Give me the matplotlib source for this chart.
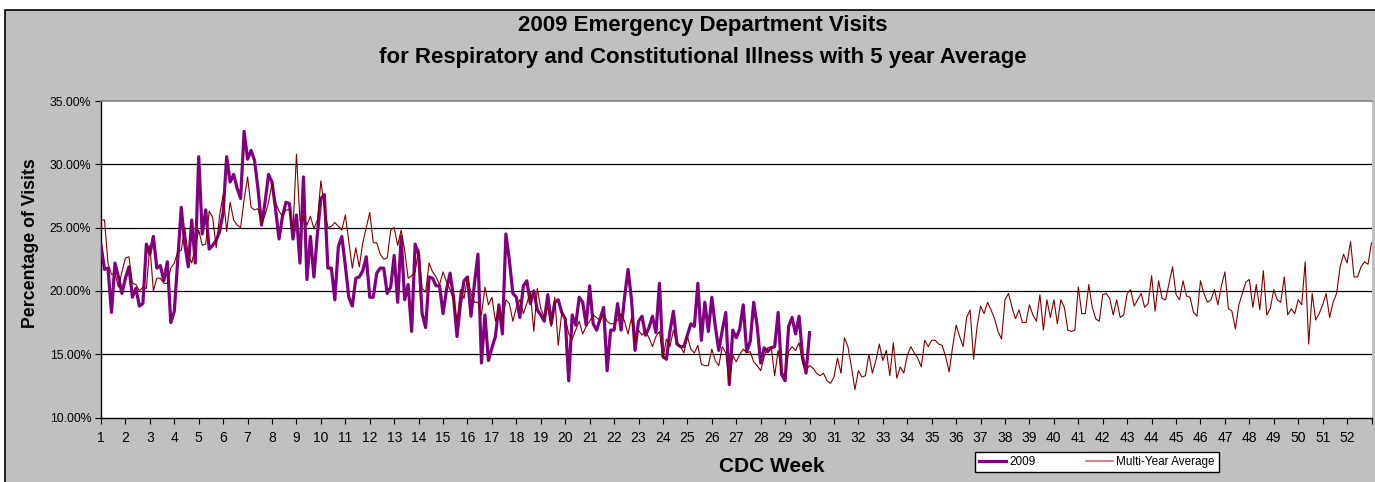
import matplotlib
matplotlib.use('Agg')
import matplotlib.pyplot as plt
from matplotlib.patches import Rectangle
import numpy as np

plt.rcParams['font.family'] = ['Liberation Sans', 'DejaVu Sans']

# ---------------- data ----------------
week_labels = [str(w) for w in range(1, 53)]
days_per_week = 7

multi_year_avg = [
    25.6, 25.6, 22.2, 21.3, 21.4, 20.3, 21.5, 22.6, 22.7, 20.6,
    20.5, 20.0, 20.3, 20.2, 23.6, 20.0, 21.0, 21.0, 20.6, 20.6,
    21.8, 22.2, 23.1, 23.2, 25.0, 22.8, 22.2, 23.5, 24.8, 23.6,
    23.7, 26.3, 25.8, 23.4, 26.0, 27.6, 24.7, 27.0, 25.6, 25.2,
    25.0, 27.2, 29.0, 26.6, 26.4, 26.5, 25.3, 26.0, 27.0, 28.5,
    27.0, 26.3, 25.9, 26.4, 26.4, 24.9, 30.8, 25.5, 26.0, 25.2,
    25.9, 24.9, 25.6, 28.7, 26.5, 25.0, 25.1, 25.4, 25.1, 24.8,
    26.0, 23.9, 21.8, 23.4, 21.9, 23.8, 25.0, 26.2, 23.8, 23.8,
    22.9, 22.5, 22.6, 24.8, 25.0, 23.6, 24.8, 23.2, 21.0, 21.2,
    21.5, 23.3, 20.2, 19.9, 22.2, 21.5, 21.1, 20.5, 21.5, 20.7,
    20.1, 19.3, 17.6, 20.1, 19.4, 21.1, 19.8, 19.1, 19.1, 18.1,
    20.3, 18.9, 19.5, 17.6, 18.7, 17.5, 19.3, 19.0, 17.6, 18.7,
    19.3, 18.2, 19.0, 19.9, 16.8, 20.2, 18.6, 17.9, 18.7, 17.2,
    19.5, 15.7, 18.3, 17.9, 16.6, 16.2, 16.9, 17.6, 16.6, 17.2,
    17.6, 18.1, 17.9, 17.6, 18.2, 17.6, 17.4, 17.4, 17.7, 18.2,
    17.6, 16.6, 17.9, 15.9, 16.9, 16.5, 16.8, 16.3, 15.6, 16.4,
    16.8, 14.7, 16.2, 15.6, 16.9, 16.0, 15.6, 15.1, 16.4, 15.4,
    15.1, 15.7, 14.2, 14.1, 14.1, 15.4, 14.5, 14.1, 15.6, 15.1,
    12.7, 14.9, 14.4, 15.0, 15.4, 15.1, 15.2, 14.4, 14.1, 13.7,
    14.8, 15.5, 15.6, 13.3, 15.3, 13.5, 13.4, 15.2, 15.6, 15.3,
    15.9, 14.3, 13.7, 14.1, 13.9, 13.5, 13.3, 13.5, 12.9, 12.7,
    13.2, 14.7, 13.5, 16.3, 15.6, 14.0, 12.2, 13.7, 13.2, 13.3,
    15.0, 13.5, 14.5, 15.8, 14.5, 15.3, 13.3, 15.9, 13.1, 14.0,
    13.5, 14.9, 15.6, 15.1, 14.7, 14.0, 16.1, 15.6, 16.1, 16.1,
    15.8, 15.7, 14.8, 13.6, 15.6, 17.3, 16.4, 15.6, 17.9, 18.5,
    14.6, 17.2, 18.8, 18.2, 19.1, 18.5, 17.8, 16.8, 16.2, 19.3,
    19.8, 18.7, 17.8, 18.5, 17.5, 17.5, 18.9, 18.1, 17.6, 19.7,
    16.9, 19.3, 17.9, 19.3, 17.4, 19.3, 18.7, 16.9, 16.8, 16.9,
    20.3, 18.2, 18.2, 20.5, 18.7, 17.8, 17.6, 19.7, 19.8, 19.4,
    18.1, 19.3, 17.9, 18.1, 19.8, 20.1, 18.8, 19.3, 19.8, 18.7,
    19.0, 21.2, 18.4, 20.8, 19.4, 19.3, 20.6, 21.9, 19.7, 19.3,
    20.8, 19.6, 19.5, 18.3, 18.0, 20.8, 19.8, 19.1, 19.3, 20.1,
    18.9, 20.4, 21.5, 18.6, 18.4, 17.0, 18.9, 19.8, 20.7, 20.9,
    18.7, 20.5, 18.5, 21.6, 18.1, 18.6, 20.1, 19.3, 19.1, 21.1,
    18.1, 18.6, 18.2, 19.3, 18.9, 22.3, 15.8, 19.8, 17.7, 18.2,
    18.9, 19.8, 17.9, 19.1, 19.8, 21.9, 22.9, 22.2, 23.9, 21.1,
    21.1, 21.9, 22.3, 22.1, 23.8,
]

visits_2009 = [
    23.6, 21.7, 21.8, 18.3, 22.2, 21.1, 19.8, 21.0, 21.9, 19.5,
    20.2, 18.8, 19.0, 23.7, 22.9, 24.3, 21.8, 22.0, 20.8, 22.3,
    17.5, 18.4, 22.5, 26.6, 23.7, 21.9, 25.6, 22.2, 30.6, 24.5,
    26.4, 23.3, 23.6, 24.0, 24.7, 26.2, 30.6, 28.6, 29.2, 28.1,
    27.3, 32.6, 30.4, 31.1, 30.3, 28.0, 25.2, 27.0, 29.2, 28.6,
    26.5, 24.1, 25.9, 27.0, 26.9, 24.1, 26.0, 22.2, 29.0, 20.9,
    24.3, 21.1, 24.5, 27.3, 27.6, 21.8, 21.8, 19.3, 23.5, 24.3,
    22.0, 19.5, 18.8, 21.0, 21.1, 21.6, 22.7, 19.5, 19.5, 21.4,
    21.8, 21.8, 19.8, 20.3, 22.8, 19.1, 24.3, 19.3, 20.5, 16.8,
    23.7, 22.9, 18.2, 17.1, 21.1, 21.0, 20.4, 20.4, 18.2, 20.1,
    21.4, 19.5, 16.4, 19.0, 20.8, 21.1, 18.0, 20.6, 22.9, 14.3,
    18.1, 14.5, 15.5, 16.4, 18.9, 16.6, 24.5, 22.4, 19.8, 19.5,
    17.9, 20.4, 20.8, 19.0, 20.0, 18.5, 18.1, 17.6, 19.7, 17.4,
    19.1, 19.3, 18.3, 17.8, 12.9, 18.1, 17.3, 19.5, 19.1, 17.3,
    20.4, 17.4, 16.9, 17.8, 18.7, 13.7, 16.9, 16.9, 19.0, 16.9,
    19.5, 21.7, 19.3, 15.3, 17.6, 18.0, 16.5, 17.1, 18.0, 16.7,
    20.6, 14.8, 14.6, 16.8, 18.4, 15.8, 15.6, 15.6, 16.5, 17.4,
    17.2, 20.6, 16.1, 19.1, 16.8, 19.5, 17.2, 15.3, 16.9, 18.3,
    12.6, 16.9, 16.3, 17.0, 18.9, 15.2, 16.0, 19.1, 17.2, 14.3,
    15.5, 15.2, 15.5, 15.6, 18.3, 13.4, 12.9, 17.2, 17.9, 16.6,
    18.0, 14.8, 13.5, 16.7,
]

y_ticks = [10, 15, 20, 25, 30, 35]

# ---------------- figure ----------------
W, H = 1375, 482
fig = plt.figure(figsize=(W / 100, H / 100), dpi=100)
fig.patch.set_facecolor('white')
fig.add_artist(Rectangle((5 / W, -0.01), 1.2, 1 - 10 / H + 0.01,
                         transform=fig.transFigure, facecolor='#C0C0C0',
                         edgecolor='black', linewidth=1.2, zorder=0))

ax = fig.add_axes([101 / W, 1 - 417.5 / H, (1371.5 - 101) / W, (417.5 - 101) / H])
ax.set_facecolor('white')

x_2009 = np.arange(len(visits_2009))
x_avg = np.arange(len(multi_year_avg))
l1, = ax.plot(x_2009, visits_2009, color='#800080', lw=2.3, solid_joinstyle='round', zorder=3)
l2, = ax.plot(x_avg, multi_year_avg, color='#800000', lw=0.8, zorder=4)

ax.set_xlim(0, len(multi_year_avg) - 1)
ax.set_ylim(10, 35)

ax.set_yticks(y_ticks)
ax.set_yticklabels([f'{v:.2f}%' for v in y_ticks], fontsize=8.8)
xt = np.arange(0, len(multi_year_avg), days_per_week)
ax.set_xticks(xt)
ax.set_xticklabels(week_labels + [''] * (len(xt) - len(week_labels)), fontsize=10)
ax.tick_params(axis='both', direction='out', length=4, width=0.8, color='black')
ax.tick_params(axis='x', pad=6)
ax.tick_params(axis='y', pad=3)

for v in y_ticks[1:-1]:
    ax.axhline(v, color='black', lw=0.9, zorder=1)

for s in ['left', 'bottom']:
    ax.spines[s].set_color('black')
    ax.spines[s].set_linewidth(1.0)
ax.spines['top'].set_color('#808080')
ax.spines['top'].set_linewidth(1.2)
ax.spines['right'].set_visible(False)

fig.text(703 / W, 1 - 25 / H, '2009 Emergency Department Visits',
         ha='center', va='center', fontsize=16, fontweight='bold')
fig.text(703 / W, 1 - 57 / H, 'for Respiratory and Constitutional Illness with 5 year Average',
         ha='center', va='center', fontsize=16, fontweight='bold')
fig.text(772 / W, 1 - 467 / H, 'CDC Week', ha='center', va='center',
         fontsize=15, fontweight='bold')
fig.text(31 / W, 1 - 243 / H, 'Percentage of Visits', ha='center', va='center',
         rotation=90, fontsize=12.8, fontweight='bold')

leg = fig.legend([l1, l2], ['2009', 'Multi-Year Average'], loc='center',
                 bbox_to_anchor=(1097 / W, 1 - 462 / H), ncol=2, fontsize=8.5,
                 frameon=True, fancybox=False, edgecolor='black', framealpha=1,
                 handlelength=2.3, handletextpad=0.3, columnspacing=4.2,
                 borderpad=0.35)
leg.get_frame().set_linewidth(1.0)
leg.legend_handles[1].set_color('#C07070')
leg.legend_handles[1].set_linewidth(1.2)

fig.savefig('out.png', dpi=100, facecolor=fig.get_facecolor())
